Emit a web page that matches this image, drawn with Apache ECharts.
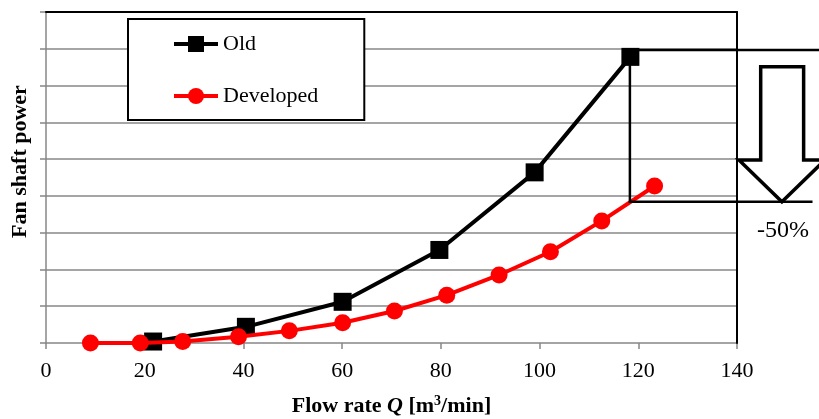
<!DOCTYPE html>
<html>
<head>
<meta charset="utf-8">
<script src="https://cdn.jsdelivr.net/npm/echarts@6/dist/echarts.min.js"></script>
<style>
html,body{margin:0;padding:0;background:#fff;}
#chart{width:819px;height:419px;}
</style>
</head>
<body>
<div id="chart"></div>
<script>
// Data
var seriesNames = ['Old', 'Developed'];
var oldX = [21.7, 40.5, 60.1, 79.7, 99.0, 118.4];
var oldY = [0.04, 0.44, 1.12, 2.53, 4.64, 7.78];
var devX = [9.0, 19.1, 27.7, 39.0, 49.3, 60.1, 70.6, 81.2, 91.8, 102.2, 112.6, 123.3];
var devY = [0.0, 0.0, 0.04, 0.17, 0.33, 0.55, 0.87, 1.30, 1.85, 2.48, 3.32, 4.27];
var xMin = 0, xMax = 140, xStep = 20;
var yMin = 0, yMax = 9, yStep = 1;
// Annotation (-50%) in data units
var annotTopY = 7.97, annotBottomY = 3.84, annotX = 118.3;
var annotTopEndX = 158, annotBottomEndX = 155.3;
var arrowShaftL = 144.8, arrowShaftR = 153.5, arrowHeadL = 140.4, arrowHeadR = 157.8, arrowTipX = 149.1;
var arrowShaftTop = 7.51, arrowHeadBase = 4.975, arrowTip = 3.84;
var annotText = '-50%', annotTextX = 149.3, annotTextY = 3.04;

function zip(a, b) { return a.map(function (v, i) { return [v, b[i]]; }); }

var serif = 'Liberation Serif, Times New Roman, serif';
var chart = echarts.init(document.getElementById('chart'), null, {renderer: 'canvas'});
var gray = '#878787';

var option = {
  animation: false,
  backgroundColor: '#fff',
  grid: {left: 46, right: 82, top: 12, bottom: 76, containLabel: false, outerBoundsMode: 'none'},
  legend: {
    orient: 'vertical',
    left: 128, top: 19,
    padding: [13, 46, 12, 44],
    itemGap: 28,
    itemWidth: 44, itemHeight: 20,
    backgroundColor: '#fff',
    borderColor: '#000', borderWidth: 2,
    lineStyle: {width: 4},
    textStyle: {fontFamily: serif, fontSize: 22, lineHeight: 24, color: '#000'},
    data: seriesNames
  },
  xAxis: [{
    type: 'value', min: xMin, max: xMax, interval: xStep,
    position: 'bottom',
    axisLine: {show: true, onZero: false, lineStyle: {color: gray, width: 1.5}},
    axisTick: {show: true, length: 6, lineStyle: {color: gray, width: 1.5}},
    splitLine: {show: false},
    axisLabel: {color: '#000', fontFamily: serif, fontSize: 22, margin: 17},
    name: '{b|Flow rate }{i|Q}{b| [m}{sup|3}{b|/min]}',
    nameLocation: 'middle', nameGap: 51,
    nameTextStyle: {
      lineHeight: 24,
      rich: {
        b: {fontFamily: serif, fontSize: 22, fontWeight: 'bold', color: '#000', lineHeight: 24},
        i: {fontFamily: serif, fontSize: 22, fontWeight: 'bold', fontStyle: 'italic', color: '#000', lineHeight: 24},
        sup: {fontFamily: serif, fontSize: 14, fontWeight: 'bold', color: '#000', lineHeight: 14, verticalAlign: 'top'}
      }
    }
  }, {
    type: 'value', min: xMin, max: xMax, interval: xStep,
    position: 'top', z: 5,
    axisLine: {show: true, onZero: false, lineStyle: {color: '#000', width: 2}},
    axisTick: {show: false}, axisLabel: {show: false}, splitLine: {show: false}
  }],
  yAxis: [{
    type: 'value', min: yMin, max: yMax, interval: yStep,
    position: 'left',
    axisLine: {show: true, onZero: false, lineStyle: {color: gray, width: 1.5}},
    axisTick: {show: true, length: 6, lineStyle: {color: gray, width: 1.5}},
    axisLabel: {show: false},
    splitLine: {show: true, showMaxLine: false, showMinLine: false, lineStyle: {color: gray, width: 1.5}},
    name: 'Fan shaft power',
    nameLocation: 'middle', nameGap: 14,
    nameTextStyle: {fontFamily: serif, fontSize: 22, fontWeight: 'bold', color: '#000', lineHeight: 24, padding: [0, 0, 0, 32]}
  }, {
    type: 'value', min: yMin, max: yMax, interval: yStep,
    position: 'right', z: 5,
    axisLine: {show: true, onZero: false, lineStyle: {color: '#000', width: 2}},
    axisTick: {show: false}, axisLabel: {show: false}, splitLine: {show: false}
  }],
  series: [{
    name: seriesNames[0], type: 'line',
    data: zip(oldX, oldY),
    symbol: 'rect', symbolSize: 18,
    lineStyle: {color: '#000', width: 4},
    itemStyle: {color: '#000'},
    z: 3
  }, {
    name: seriesNames[1], type: 'line',
    data: zip(devX, devY),
    symbol: 'circle', symbolSize: 17,
    lineStyle: {color: '#ff0000', width: 4},
    itemStyle: {color: '#ff0000'},
    z: 4
  }]
};
chart.setOption(option);

function px(x, y) { return chart.convertToPixel({gridIndex: 0}, [x, y]); }

var arrowPts = [
  [arrowShaftL, arrowShaftTop], [arrowShaftR, arrowShaftTop], [arrowShaftR, arrowHeadBase],
  [arrowHeadR, arrowHeadBase], [arrowTipX, arrowTip], [arrowHeadL, arrowHeadBase],
  [arrowShaftL, arrowHeadBase]
].map(function (p) { return px(p[0], p[1]); });
var tp = px(annotTextX, annotTextY);

chart.setOption({
  graphic: [
    {type: 'polyline', z: 10, shape: {points: [px(annotX, annotTopY), px(annotTopEndX, annotTopY)]},
      style: {stroke: '#000', lineWidth: 2.5, fill: null}},
    {type: 'polyline', z: 10, shape: {points: [px(annotX, annotTopY), px(annotX, annotBottomY), px(annotBottomEndX, annotBottomY)]},
      style: {stroke: '#000', lineWidth: 2.5, fill: null}},
    {type: 'polygon', z: 11, shape: {points: arrowPts},
      style: {stroke: '#000', lineWidth: 3.5, fill: '#fff', lineJoin: 'miter'}},
    {type: 'text', z: 11, x: tp[0], y: tp[1],
      style: {text: annotText, fontFamily: serif, fontSize: 24, fill: '#000', align: 'center', verticalAlign: 'middle'}}
  ]
});
</script>
</body>
</html>
